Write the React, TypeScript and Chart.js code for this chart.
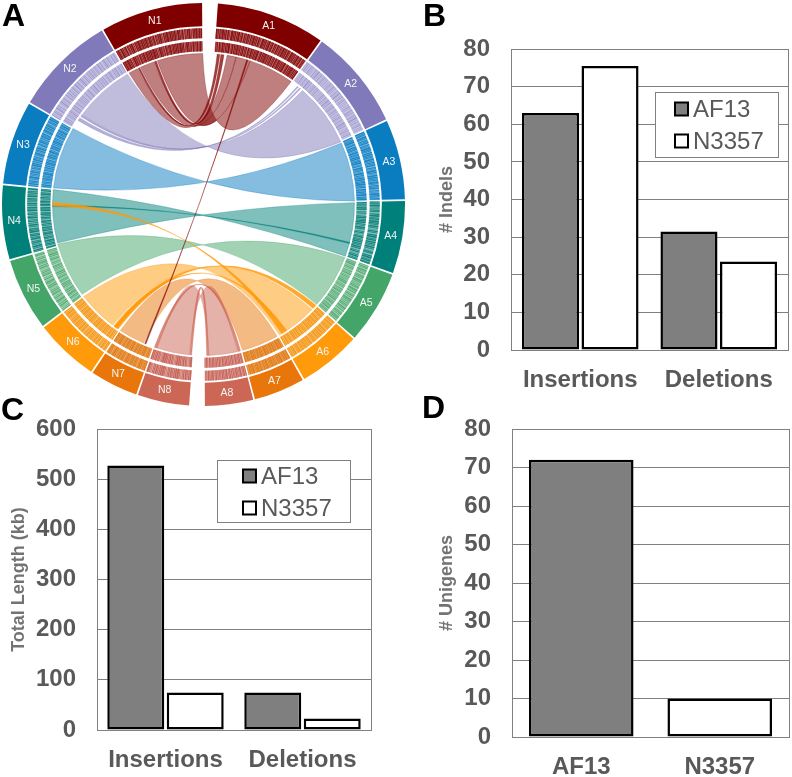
import React, { useEffect, useRef } from "react";
import { Chart, registerables } from "chart.js";

Chart.register(...registerables);

const FONT = "'Liberation Sans', Arial, sans-serif";

// ---- Panel A data: chromosome sectors, spans in degrees of the circle ----
const chromNames = ["1", "2", "3", "4", "5", "6", "7", "8"];
const aSpans = [31.9, 29.5, 23.5, 21.4, 21.5, 18.6, 15.2, 14.4];
const nSpans = [29.9, 29.7, 24.5, 21.8, 21.3, 19.0, 14.4, 15.4];
const gapSpan = 4;
const chromColors = ["#800000", "#8079ba", "#0a7cc0", "#00807a", "#44a568", "#ff9a0a", "#e8760a", "#cc6655"];
const chromRgb = ["128,0,0", "128,121,186", "10,124,192", "0,128,122", "68,165,104", "255,154,10", "232,118,10", "204,102,85"];
const trackDark = ["#8a1616", "#9a95cb", "#1c87c4", "#17857f", "#59ad78", "#f59a1c", "#e07f1c", "#c8665c"];
const trackLight = ["#c07878", "#c2bfe0", "#7ab8e0", "#7dbdb8", "#a2d2b4", "#fac47a", "#efab6e", "#dfa69e"];

// Alternating dark / light run lengths along each chromosome track
const stripesA1 = [5, 1, 3, 2, 4, 1, 2, 1, 6, 1, 3, 1, 4, 2, 5, 1, 2, 3, 7, 1, 3, 1, 4, 2, 3, 1, 6, 2, 2, 1, 5, 3, 4, 1, 3, 2];
const stripesA2 = [1, 4, 2, 3, 1, 5, 2, 2, 1, 3, 1, 6, 2, 3, 1, 2, 3, 4, 1, 3, 2, 5, 1, 2, 2, 4, 1, 3, 1, 5];
const stripesA3 = [4, 1, 2, 1, 3, 2, 5, 1, 2, 2, 3, 1, 2, 1, 4, 3, 3, 1, 2, 2, 5, 1, 3, 1, 2, 2, 4, 1];
const stripesA4 = [3, 1, 2, 2, 4, 1, 2, 3, 1, 2, 3, 1, 2, 4, 3, 1, 4, 2, 2, 1, 3, 2, 4, 1];
const stripesA5 = [2, 2, 3, 1, 2, 3, 4, 1, 2, 2, 3, 4, 2, 1, 3, 2, 2, 3, 4, 1, 3, 2, 2, 2];
const stripesA6 = [4, 1, 3, 2, 5, 1, 2, 2, 4, 1, 3, 1, 2, 3, 5, 1, 3, 2, 4, 1, 2, 1];
const stripesA7 = [4, 1, 2, 1, 5, 1, 3, 1, 2, 2, 6, 1, 3, 1, 4, 2, 2, 1];
const stripesA8 = [3, 2, 4, 1, 2, 3, 5, 1, 2, 2, 3, 1, 4, 2, 2, 1, 3, 2];
const stripesN1 = [3, 1, 5, 1, 2, 2, 6, 1, 3, 2, 2, 1, 5, 3, 3, 1, 2, 2, 4, 1, 6, 2, 2, 3, 4, 1, 3, 1, 7, 1, 2, 1, 5, 1, 4, 1];
const stripesN2 = [2, 3, 1, 4, 2, 2, 1, 5, 3, 2, 1, 3, 2, 6, 1, 2, 3, 3, 1, 4, 2, 2, 1, 6, 2, 3, 1, 2, 2, 4];
const stripesN3 = [3, 2, 4, 1, 2, 1, 3, 3, 2, 1, 5, 2, 2, 1, 3, 2, 4, 1, 2, 3, 3, 1, 2, 2, 4, 1, 3, 2];
const stripesN4 = [2, 1, 3, 3, 2, 1, 4, 2, 2, 2, 3, 1, 2, 3, 4, 1, 2, 2, 3, 1, 2, 3, 4, 1];
const stripesN5 = [3, 2, 2, 3, 1, 2, 4, 2, 3, 3, 2, 1, 4, 2, 1, 3, 3, 2, 2, 4, 3, 1, 2, 2];
const stripesN6 = [3, 1, 4, 2, 2, 1, 5, 2, 3, 1, 2, 3, 4, 1, 3, 2, 5, 1, 2, 2, 3, 1];
const stripesN7 = [5, 1, 3, 1, 2, 2, 4, 1, 6, 1, 2, 3, 3, 1, 4, 1, 2, 2];
const stripesN8 = [4, 1, 3, 2, 2, 1, 4, 2, 3, 1, 2, 3, 1, 2, 2, 1, 5, 1];

const stripesByChrom = {
  A: [stripesA1, stripesA2, stripesA3, stripesA4, stripesA5, stripesA6, stripesA7, stripesA8],
  N: [stripesN1, stripesN2, stripesN3, stripesN4, stripesN5, stripesN6, stripesN7, stripesN8],
};

// Links: chromosome that colours it, N-side range and A-side range (degrees around the circle)
const linkChrom = [1, 2, 3, 4, 0, 0, 0, 5, 6, 7, 1, 1, 0, 0, 3, 5, 5, 5, 7, 7, 0];
const linkAlpha = [0.5, 0.5, 0.5, 0.5, 0.5, 0.5, 0.5, 0.5, 0.5, 0.5, 0.6, 0.6, 0.75, 0.75, 0.8, 0.85, 0.85, 0.9, 0.75, 0.75, 0.75];
const linkNStart = [306.5, 276.3, 255.2, 233.5, 330.5, 335.3, 342.2, 217.0, 203.4, 185.5, 303.8, 305.7, 334.3, 341.0, 269.2, 214.4, 269.4, 215.0, 198.0, 184.5, 202.4];
const linkNEnd = [329.7, 300.2, 275.7, 254.8, 334.0, 340.8, 359.7, 232.5, 213.4, 198.0, 305.0, 306.3, 335.0, 341.8, 269.7, 216.5, 270.8, 216.0, 199.0, 185.3, 202.9];
const linkAStart = [41.0, 66.0, 89.3, 110.5, 9.0, 12.5, 18.0, 134.0, 150.8, 167.0, 38.5, 39.5, 5.2, 6.6, 104.5, 131.8, 147.3, 146.5, 165.8, 178.0, 16.6];
const linkAEnd = [65.5, 88.7, 110.0, 131.4, 12.5, 18.0, 35.5, 149.8, 165.0, 178.0, 38.9, 40.0, 6.2, 7.8, 105.0, 133.5, 148.8, 147.3, 166.8, 178.8, 17.1];

// ---- Panels B, C, D data ----
const indelCategories = ["Insertions", "Deletions"];
const indelAF13 = [63, 31.5];
const indelN3357 = [75.5, 23.5];
const lengthAF13 = [527, 75];
const lengthN3357 = [75, 23];
const unigeneCategories = ["AF13", "N3357"];
const unigeneCounts = [72, 10];
const seriesNames = ["AF13", "N3357"];
const seriesFills = ["#7f7f7f", "#ffffff"];

type Seg = { v: number; c: string; label: string };
const CLEAR = "rgba(255,255,255,0)";
const SEP = 0.5;

function ringSegments(kind: "solid" | "track", flip: boolean): Seg[] {
  const out: Seg[] = [];
  const addSector = (side: "A" | "N", i: number, span: number) => {
    const name = side + chromNames[i];
    if (kind === "solid") {
      out.push({ v: span - SEP, c: chromColors[i], label: name });
    } else {
      const one = flip ? [...stripesByChrom[side][i]].reverse() : stripesByChrom[side][i];
      const pat = [...one, ...one, ...one];
      const total = pat.reduce((a, b) => a + b, 0);
      pat.forEach((r, k) => {
        const isDark = k % 2 === (flip ? 1 : 0);
        out.push({ v: (r / total) * (span - SEP), c: isDark ? trackDark[i] : CLEAR, label: name });
      });
    }
    out.push({ v: SEP, c: CLEAR, label: "" });
  };
  aSpans.forEach((s, i) => addSector("A", i, s));
  out.push({ v: gapSpan, c: CLEAR, label: "" });
  for (let i = 7; i >= 0; i--) addSector("N", i, nSpans[i]);
  out.push({ v: gapSpan, c: CLEAR, label: "" });
  return out;
}

const START_ANGLE = 4.1;
const LINK_R = 151;

function eachSector(cb: (name: string, i: number, start: number, span: number) => void) {
  let ang = START_ANGLE;
  aSpans.forEach((s, i) => {
    cb("A" + chromNames[i], i, ang, s);
    ang += s;
  });
  ang += gapSpan;
  for (let i = 7; i >= 0; i--) {
    cb("N" + chromNames[i], i, ang, nSpans[i]);
    ang += nSpans[i];
  }
}

const rad = (d: number) => ((d - 90) * Math.PI) / 180;

const circosPlugin = {
  id: "circosOverlay",
  beforeDatasetsDraw(chart: any) {
    // pale body of both tracks under the dark stripes
    const ctx = chart.ctx;
    ctx.save();
    [2, 4].forEach((d) => {
      const el = chart.getDatasetMeta(d).data[0];
      eachSector((_n, i, start, span) => {
        ctx.beginPath();
        ctx.arc(el.x, el.y, el.outerRadius, rad(start), rad(start + span - SEP), false);
        ctx.arc(el.x, el.y, el.innerRadius, rad(start + span - SEP), rad(start), true);
        ctx.closePath();
        ctx.fillStyle = trackLight[i];
        ctx.fill();
      });
    });
    ctx.restore();
  },
  afterDatasetsDraw(chart: any) {
    const arc = chart.getDatasetMeta(0).data[0];
    const cx = arc.x;
    const cy = arc.y;
    const ctx = chart.ctx;
    const pt = (d: number) => [cx + LINK_R * Math.cos(rad(d)), cy + LINK_R * Math.sin(rad(d))];
    const curve = (from: number, to: number) => {
      const p = pt(from);
      const q = pt(to);
      const k = 0.05;
      ctx.quadraticCurveTo(cx + k * (p[0] + q[0] - 2 * cx), cy + k * (p[1] + q[1] - 2 * cy), q[0], q[1]);
    };
    ctx.save();
    linkChrom.forEach((c, i) => {
      const n0 = linkNStart[i];
      const n1 = linkNEnd[i];
      const a0 = linkAStart[i];
      const a1 = linkAEnd[i];
      ctx.beginPath();
      ctx.arc(cx, cy, LINK_R, rad(n0), rad(n1), false);
      curve(n1, a1);
      ctx.arc(cx, cy, LINK_R, rad(a1), rad(a0), true);
      curve(a0, n0);
      ctx.closePath();
      ctx.fillStyle = `rgba(${chromRgb[c]},${linkAlpha[i]})`;
      ctx.fill();
      ctx.strokeStyle = `rgba(${chromRgb[c]},0.6)`;
      ctx.lineWidth = 0.5;
      ctx.stroke();
    });
    // sector names
    ctx.font = `10.5px ${FONT}`;
    ctx.fillStyle = "#f4f4f4";
    ctx.textAlign = "center";
    ctx.textBaseline = "middle";
    eachSector((name, _i, start, span) => {
      const m = start + span / 2;
      ctx.fillText(name, cx + 190 * Math.cos(rad(m)), cy + 190 * Math.sin(rad(m)));
    });
    ctx.restore();
  },
};

function Circos() {
  const ref = useRef<HTMLCanvasElement>(null);
  useEffect(() => {
    const outer = ringSegments("solid", false);
    const t1 = ringSegments("track", false);
    const t2 = ringSegments("track", true);
    const spacer = { data: [1], backgroundColor: [CLEAR], borderWidth: 0 };
    const chart = new Chart(ref.current!, {
      type: "doughnut",
      data: {
        labels: outer.map((s) => s.label),
        datasets: [
          { data: outer.map((s) => s.v), backgroundColor: outer.map((s) => s.c), borderWidth: 0, weight: 23 },
          { ...spacer, weight: 2 },
          { data: t1.map((s) => s.v), backgroundColor: t1.map((s) => s.c), borderWidth: 0, weight: 10 },
          { ...spacer, weight: 3 },
          { data: t2.map((s) => s.v), backgroundColor: t2.map((s) => s.c), borderWidth: 0, weight: 10 },
        ] as any,
      },
      options: {
        responsive: false,
        animation: false,
        rotation: START_ANGLE,
        cutout: "76%",
        layout: { padding: 0 },
        plugins: { legend: { display: false }, tooltip: { enabled: false } },
      } as any,
      plugins: [circosPlugin],
    });
    return () => chart.destroy();
  }, []);
  return (
    <canvas
      ref={ref}
      width={403}
      height={403}
      style={{ position: "absolute", left: 2, top: 3, display: "block", filter: "blur(0.4px)" }}
    />
  );
}

type PanelProps = {
  left: number;
  top: number;
  width: number;
  height: number;
  axisW: number;
  axisH: number;
  padTop: number;
  padRight: number;
  labels: string[];
  datasets: { label: string; data: number[]; fill: string | string[] }[];
  yMax: number;
  yStep: number;
  yTitle: string;
  titlePad: number;
  barPct: number;
  catPct: number;
  legendBox?: { x: number; y: number; w: number; h: number; swatchX: number; textX: number; rows: number[] };
};

function BarPanel(p: PanelProps) {
  const ref = useRef<HTMLCanvasElement>(null);
  useEffect(() => {
    const framePlugin = {
      id: "frame",
      beforeDatasetsDraw(chart: any) {
        const { left, top, width, height } = chart.chartArea;
        const ctx = chart.ctx;
        ctx.save();
        ctx.strokeStyle = "#808080";
        ctx.lineWidth = 1;
        ctx.strokeRect(left + 0.5, top + 0.5, width, height);
        ctx.restore();
      },
      afterDatasetsDraw(chart: any) {
        const b = p.legendBox;
        if (!b) return;
        const ctx = chart.ctx;
        ctx.save();
        ctx.fillStyle = "#ffffff";
        ctx.fillRect(b.x, b.y, b.w, b.h);
        ctx.strokeStyle = "#808080";
        ctx.lineWidth = 1;
        ctx.strokeRect(b.x + 0.5, b.y + 0.5, b.w, b.h);
        seriesNames.forEach((name, i) => {
          const cy = b.rows[i];
          ctx.fillStyle = seriesFills[i];
          ctx.fillRect(b.swatchX, cy - 6.5, 13, 13);
          ctx.strokeStyle = "#000000";
          ctx.lineWidth = 2;
          ctx.strokeRect(b.swatchX, cy - 6.5, 13, 13);
          ctx.fillStyle = "#595959";
          ctx.font = `24px ${FONT}`;
          ctx.textAlign = "left";
          ctx.textBaseline = "middle";
          ctx.fillText(name, b.textX, cy + 1);
        });
        ctx.restore();
      },
    };
    const chart = new Chart(ref.current!, {
      type: "bar",
      data: {
        labels: p.labels,
        datasets: p.datasets.map((d) => ({
          label: d.label,
          data: d.data,
          backgroundColor: d.fill,
          borderColor: "#000000",
          borderWidth: 2.5,
          borderSkipped: false,
          barPercentage: p.barPct,
          categoryPercentage: p.catPct,
        })),
      },
      options: {
        responsive: false,
        animation: false,
        layout: { padding: { top: p.padTop, right: p.padRight, left: 0, bottom: 0 } },
        plugins: { legend: { display: false }, tooltip: { enabled: false } },
        scales: {
          x: {
            grid: { display: false, drawTicks: false },
            border: { display: false },
            ticks: { color: "#595959", font: { family: FONT, size: 24, weight: "bold" }, padding: 16, maxRotation: 0 },
            afterFit: (s: any) => {
              s.height = p.axisH;
            },
          },
          y: {
            min: 0,
            max: p.yMax,
            grid: { color: "#808080", lineWidth: 1, drawTicks: false },
            border: { display: false },
            ticks: {
              stepSize: p.yStep,
              autoSkip: false,
              color: "#595959",
              font: { family: FONT, size: 24, weight: "bold" },
              padding: 21,
            },
            title: {
              display: true,
              text: p.yTitle,
              color: "#737373",
              font: { family: FONT, size: 18, weight: "bold" },
              padding: { top: p.titlePad, bottom: 0 },
            },
            afterFit: (s: any) => {
              s.width = p.axisW;
              s.paddingTop = 0;
              s.paddingBottom = 0;
            },
          },
        },
      } as any,
      plugins: [framePlugin],
    });
    return () => chart.destroy();
  }, []);
  return (
    <canvas
      ref={ref}
      width={p.width}
      height={p.height}
      style={{ position: "absolute", left: p.left, top: p.top, display: "block" }}
    />
  );
}

const letterStyle = (left: number, top: number): React.CSSProperties => ({
  position: "absolute",
  left,
  top,
  font: `bold 32px/32px ${FONT}`,
  color: "#000",
});

export default function App() {
  return (
    <div style={{ position: "absolute", left: 0, top: 0, width: 792, height: 777, overflow: "hidden", background: "#fff" }}>
      <Circos />
      <BarPanel
        left={410}
        top={30}
        width={382}
        height={360}
        axisW={101}
        axisH={40}
        padTop={19}
        padRight={4}
        labels={indelCategories}
        datasets={[
          { label: seriesNames[0], data: indelAF13, fill: seriesFills[0] },
          { label: seriesNames[1], data: indelN3357, fill: seriesFills[1] },
        ]}
        yMax={80}
        yStep={10}
        yTitle="# Indels"
        titlePad={26}
        barPct={0.958}
        catPct={0.86}
        legendBox={{ x: 245, y: 62, w: 123, h: 65, swatchX: 265, textX: 283, rows: [79, 111] }}
      />
      <BarPanel
        left={0}
        top={410}
        width={400}
        height={367}
        axisW={97}
        axisH={47}
        padTop={19}
        padRight={29}
        labels={indelCategories}
        datasets={[
          { label: seriesNames[0], data: lengthAF13, fill: seriesFills[0] },
          { label: seriesNames[1], data: lengthN3357, fill: seriesFills[1] },
        ]}
        yMax={600}
        yStep={100}
        yTitle="Total Length (kb)"
        titlePad={8}
        barPct={0.958}
        catPct={0.868}
        legendBox={{ x: 217, y: 50, w: 133, h: 62, swatchX: 243, textX: 261, rows: [66, 98] }}
      />
      <BarPanel
        left={410}
        top={410}
        width={382}
        height={367}
        axisW={102}
        axisH={40}
        padTop={19}
        padRight={3}
        labels={unigeneCategories}
        datasets={[{ label: "Unigenes", data: unigeneCounts, fill: seriesFills }]}
        yMax={80}
        yStep={10}
        yTitle="# Unigenes"
        titlePad={26}
        barPct={1}
        catPct={0.755}
      />
      <div style={letterStyle(2, -1)}>A</div>
      <div style={letterStyle(423, -1)}>B</div>
      <div style={letterStyle(1, 393)}>C</div>
      <div style={letterStyle(422, 391)}>D</div>
    </div>
  );
}
